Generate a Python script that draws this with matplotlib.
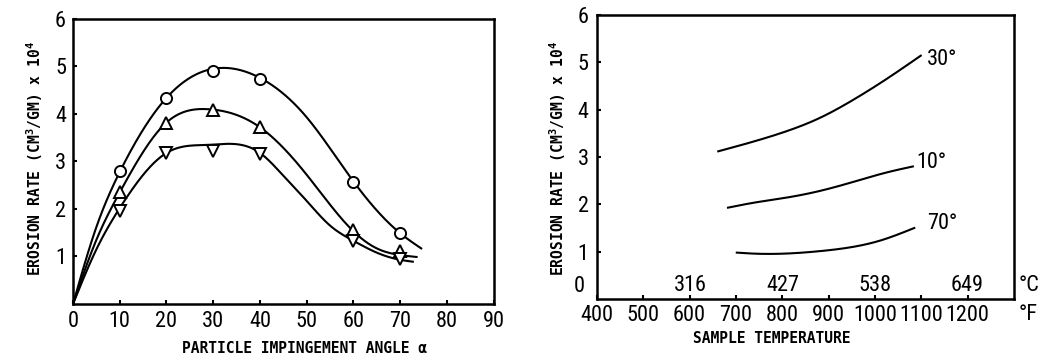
import numpy as np
import matplotlib
matplotlib.use('Agg')
import matplotlib.pyplot as plt
from matplotlib import font_manager

# narrow face for the numbers if one is around, mono for the axis titles
names = {f.name for f in font_manager.fontManager.ttflist}
NUM_FONT, NUM_SIZE = 'DejaVu Sans', 12.5
for cand in ('Liberation Sans Narrow', 'DejaVu Sans Condensed', 'Roboto Condensed',
             'Open Sans Condensed'):
    if cand in names:
        NUM_FONT, NUM_SIZE = cand, 16
        break
MONO = 'DejaVu Sans Mono'
plt.rcParams['mathtext.fontset'] = 'custom'
plt.rcParams['mathtext.rm'] = MONO + ':bold'
plt.rcParams['mathtext.it'] = MONO + ':bold'
plt.rcParams['mathtext.bf'] = MONO + ':bold'

# --- left panel: erosion rate vs impingement angle ---
angle_pts = [10, 20, 30, 40, 60, 70]
circle_pts = [2.79, 4.33, 4.90, 4.74, 2.57, 1.49]
up_pts = [2.35, 3.80, 4.08, 3.73, 1.56, 1.12]
down_pts = [1.95, 3.17, 3.23, 3.16, 1.32, 0.95]

# faired curves drawn through the measurements
circle_cx = [0, 5, 10, 20, 32, 40, 50, 60, 70, 74.5]
circle_cy = [0, 1.62, 2.78, 4.34, 4.97, 4.76, 3.93, 2.58, 1.49, 1.17]
up_cx = [0, 5, 10, 20, 29, 40, 50, 60, 65, 70, 73.5]
up_cy = [0, 1.35, 2.35, 3.82, 4.10, 3.72, 2.72, 1.53, 1.17, 1.03, 0.99]
down_cx = [0, 5, 10, 20, 29, 40, 45, 50, 55, 60, 65, 70, 72.7]
down_cy = [0, 1.15, 2.02, 3.18, 3.35, 3.18, 2.70, 2.17, 1.65, 1.33, 1.08, 0.93, 0.89]

# --- right panel: erosion rate vs sample temperature ---
f30 = [662, 736, 808, 880, 952, 1024, 1099]
e30 = [3.12, 3.32, 3.54, 3.82, 4.20, 4.64, 5.14]
f10 = [683, 736, 808, 880, 952, 1024, 1082]
e10 = [1.93, 2.03, 2.14, 2.28, 2.47, 2.67, 2.80]
f70 = [702, 736, 808, 880, 952, 1010, 1085]
e70 = [0.98, 0.96, 0.96, 1.01, 1.10, 1.23, 1.50]
curve_labels = ['30°', '10°', '70°']
label_xy = [(1112, 5.06), (1090, 2.88), (1112, 1.60)]

temp_f_ticks = [400, 500, 600, 700, 800, 900, 1000, 1100, 1200]
temp_c_labels = [316, 427, 538, 649]


def smooth(xs, ys, n=400):
    # natural cubic spline through the points
    x = np.asarray(xs, float)
    y = np.asarray(ys, float)
    h = np.diff(x)
    m = len(x)
    A = np.zeros((m, m))
    r = np.zeros(m)
    A[0, 0] = A[-1, -1] = 1
    for i in range(1, m - 1):
        A[i, i - 1] = h[i - 1]
        A[i, i] = 2 * (h[i - 1] + h[i])
        A[i, i + 1] = h[i]
        r[i] = 6 * ((y[i + 1] - y[i]) / h[i] - (y[i] - y[i - 1]) / h[i - 1])
    M = np.linalg.solve(A, r)
    xx = np.linspace(x[0], x[-1], n)
    k = np.clip(np.searchsorted(x, xx) - 1, 0, m - 2)
    t0 = x[k + 1] - xx
    t1 = xx - x[k]
    hk = h[k]
    yy = (M[k] * t0 ** 3 + M[k + 1] * t1 ** 3) / (6 * hk) \
        + (y[k] / hk - M[k] * hk / 6) * t0 + (y[k + 1] / hk - M[k + 1] * hk / 6) * t1
    return xx, yy


fig = plt.figure(figsize=(10.49, 3.6), dpi=100)
ax1 = fig.add_axes([0.0696, 0.1556, 0.401, 0.7917])
ax2 = fig.add_axes([0.569, 0.1694, 0.3975, 0.789])

for ax in (ax1, ax2):
    for s in ax.spines.values():
        s.set_linewidth(1.8)
    ax.tick_params(direction='in', length=3, width=1.5, pad=3)

# left panel
for cx, cy in ((circle_cx, circle_cy), (up_cx, up_cy), (down_cx, down_cy)):
    sx, sy = smooth(cx, cy)
    ax1.plot(sx, sy, color='black', lw=1.5)
mk = dict(ls='none', ms=8, mfc='white', mec='black', mew=1.4)
ax1.plot(angle_pts, circle_pts, marker='o', **mk)
ax1.plot(angle_pts, up_pts, marker='^', **mk)
ax1.plot(angle_pts, down_pts, marker='v', **mk)

ax1.set_xlim(0, 90)
ax1.set_ylim(0, 6)
ax1.set_xticks(range(0, 91, 10))
ax1.set_yticks(range(1, 7))
ax1.set_xticklabels([str(v) for v in range(0, 91, 10)], family=NUM_FONT, fontsize=NUM_SIZE)
ax1.set_yticklabels([str(v) for v in range(1, 7)], family=NUM_FONT, fontsize=NUM_SIZE)
ax1.tick_params(axis='y', pad=5)
ax1.tick_params(axis='x', pad=5)
ax1.text(0.55, -0.155, 'PARTICLE IMPINGEMENT ANGLE \u03b1', transform=ax1.transAxes,
         ha='center', va='center', family=MONO, fontsize=10.5, fontweight='bold')
fig.text(0.033, 0.56, r'EROSION RATE (CM$^3$/GM) x 10$^4$', rotation=90,
         ha='center', va='center', family=MONO, fontsize=10.5, fontweight='bold')

# right panel
for fx, ey in ((f30, e30), (f10, e10), (f70, e70)):
    sx, sy = smooth(fx, ey)
    ax2.plot(sx, sy, color='black', lw=1.5)
for txt, (lx, ly) in zip(curve_labels, label_xy):
    ax2.text(lx, ly, txt, ha='left', va='center', family=NUM_FONT, fontsize=NUM_SIZE)

ax2.set_xlim(400, 1300)
ax2.set_ylim(0, 6)
ax2.set_xticks(temp_f_ticks)
ax2.set_xticklabels([str(v) for v in temp_f_ticks], family=NUM_FONT, fontsize=NUM_SIZE)
ax2.set_yticks(range(1, 7))
ax2.set_yticklabels([str(v) for v in range(1, 7)], family=NUM_FONT, fontsize=NUM_SIZE)
ax2.tick_params(axis='y', pad=6)
ax2.tick_params(axis='x', pad=4)
ax2.text(-0.03, 0.26, '0', transform=ax2.get_yaxis_transform(), ha='right', va='center',
         family=NUM_FONT, fontsize=NUM_SIZE)
for c in temp_c_labels:
    ax2.text(c * 9 / 5 + 32, 0.28, str(c), ha='center', va='center',
             family=NUM_FONT, fontsize=NUM_SIZE)
ax2.text(1.012, 0.28, '°C', transform=ax2.get_yaxis_transform(), ha='left', va='center',
         family=NUM_FONT, fontsize=NUM_SIZE)
ax2.text(1.012, -0.32, '°F', transform=ax2.get_yaxis_transform(), ha='left', va='center',
         family=NUM_FONT, fontsize=NUM_SIZE)
ax2.text(0.42, -0.14, 'SAMPLE TEMPERATURE', transform=ax2.transAxes,
         ha='center', va='center', family=MONO, fontsize=10.5, fontweight='bold')
fig.text(0.532, 0.56, r'EROSION RATE (CM$^3$/GM) x 10$^4$', rotation=90,
         ha='center', va='center', family=MONO, fontsize=10.5, fontweight='bold')

fig.savefig('out.png', dpi=100)
